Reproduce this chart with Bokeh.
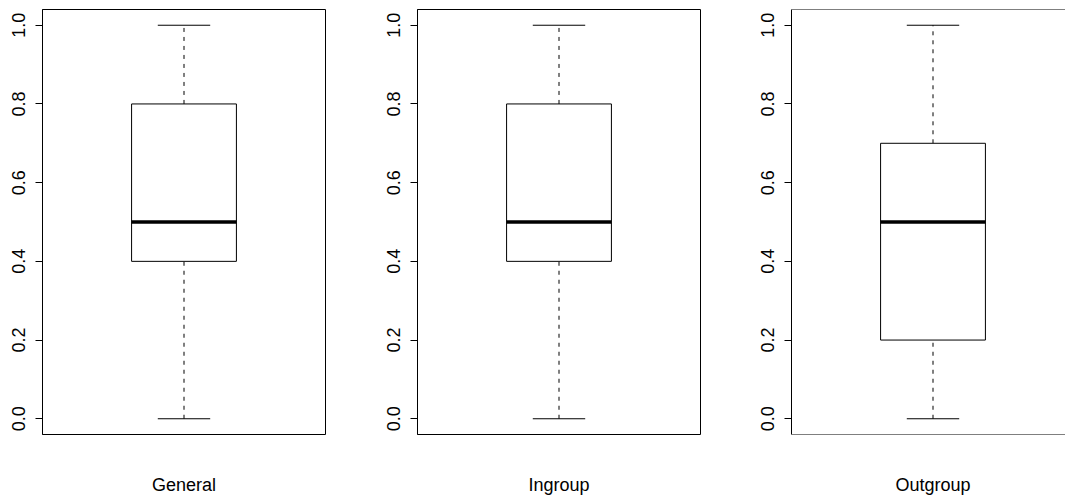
from bokeh.plotting import figure
from bokeh.layouts import row
from bokeh.models import Range1d, FixedTicker, PrintfTickFormatter, Span, LinearAxis
from bokeh.embed import file_html
from bokeh.resources import INLINE

# Five-number summaries for each group
groups = ["General", "Ingroup", "Outgroup"]
lower_whisker = [0.0, 0.0, 0.0]
q1 = [0.4, 0.4, 0.2]
median = [0.5, 0.5, 0.5]
q3 = [0.8, 0.8, 0.7]
upper_whisker = [1.0, 1.0, 1.0]
y_ticks = [0.0, 0.2, 0.4, 0.6, 0.8, 1.0]

FONT = "Liberation Sans"
BOX_HALF = 0.2
CAP_HALF = 0.1
PX_PER_UNIT = 283 / 1.08


def make_panel(i, width, left, right, clipped=False):
    frame_w = width - left - right
    x_end = 0.46 + frame_w / PX_PER_UNIT
    p = figure(width=width, height=499, output_backend="svg", toolbar_location=None,
               x_range=Range1d(0.46, x_end), y_range=Range1d(-0.04, 1.04),
               min_border_left=left, min_border_right=right,
               min_border_top=9, min_border_bottom=65,
               x_axis_location=None)
    p.grid.visible = False
    p.background_fill_color = "white"
    p.border_fill_color = "white"
    if clipped:
        p.outline_line_color = None
        for loc in (-0.04, 1.04):
            p.add_layout(Span(location=loc, dimension="width",
                              line_color="black", line_width=1))
    else:
        p.outline_line_color = "black"
        p.outline_line_width = 1

    ax = p.yaxis[0]
    ax.ticker = FixedTicker(ticks=y_ticks)
    ax.formatter = PrintfTickFormatter(format="%.1f")
    ax.major_label_orientation = "vertical"
    ax.major_label_text_font = FONT
    ax.major_label_text_font_size = "18px"
    ax.major_label_text_color = "black"
    ax.major_label_standoff = 10
    ax.major_tick_out = 7
    ax.major_tick_in = 0
    ax.minor_tick_out = 0
    ax.minor_tick_in = 0
    ax.major_tick_line_color = "black"
    ax.axis_line_color = "black"

    c = 1.0
    # group name under the panel, placed at the box centre
    xa = LinearAxis(ticker=FixedTicker(ticks=[c]), major_label_overrides={c: groups[i]},
                    axis_line_color=None, major_tick_line_color=None,
                    minor_tick_line_color=None, major_tick_out=0, major_tick_in=0,
                    major_label_standoff=40, major_label_text_font=FONT,
                    major_label_text_font_size="18px", major_label_text_color="black")
    p.add_layout(xa, "below")

    # whiskers
    p.segment(x0=[c, c], y0=[lower_whisker[i], q3[i]], x1=[c, c], y1=[q1[i], upper_whisker[i]],
              line_color="black", line_width=1, line_dash="4 5")
    # caps
    p.segment(x0=[c - CAP_HALF, c - CAP_HALF], y0=[lower_whisker[i], upper_whisker[i]],
              x1=[c + CAP_HALF, c + CAP_HALF], y1=[lower_whisker[i], upper_whisker[i]],
              line_color="black", line_width=1)
    # box
    p.quad(left=[c - BOX_HALF], right=[c + BOX_HALF], bottom=[q1[i]], top=[q3[i]],
           fill_color="white", line_color="black", line_width=1)
    # median
    p.segment(x0=[c - BOX_HALF], y0=[median[i]], x1=[c + BOX_HALF], y1=[median[i]],
              line_color="black", line_width=3.3)
    return p


p1 = make_panel(0, 375, 42, 50)
p2 = make_panel(1, 375, 42, 50)
p3 = make_panel(2, 315, 41, 0, clipped=True)

layout = row(p1, p2, p3, spacing=0)
open("out.html", "w").write(file_html(layout, INLINE))
